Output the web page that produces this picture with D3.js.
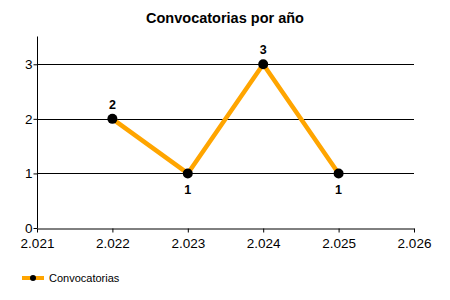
<!DOCTYPE html>
<html>
<head>
<meta charset="utf-8">
<script src="https://cdn.jsdelivr.net/npm/d3@7"></script>
<style>
  body { margin: 0; background: #fff; }
  svg { display: block; font-family: "Liberation Sans", Arial, sans-serif; }
</style>
</head>
<body>
<div id="chart"></div>
<script>
// Chart data
const years = [2.022, 2.023, 2.024, 2.025];
const counts = [2, 1, 3, 1];
const xTicks = [2.021, 2.022, 2.023, 2.024, 2.025, 2.026];
const yTicks = [0, 1, 2, 3];
const seriesName = "Convocatorias";
const title = "Convocatorias por año";

const W = 450, H = 300;
const margin = { top: 37, right: 36, bottom: 72, left: 37 };
const width = W - margin.left - margin.right;
const height = H - margin.top - margin.bottom;

const svg = d3.select("#chart").append("svg")
    .attr("width", W)
    .attr("height", H);

svg.append("text")
    .attr("x", 225)
    .attr("y", 23)
    .attr("text-anchor", "middle")
    .attr("font-size", 14.5)
    .attr("font-weight", "bold")
    .text(title);

const g = svg.append("g")
    .attr("transform", `translate(${margin.left},${margin.top})`);

const x = d3.scaleLinear().domain([2.021, 2.026]).range([0, width]);
const y = d3.scaleLinear().domain([0, 3.5]).range([height, 0]);

// gridlines
g.selectAll(".grid")
    .data(yTicks.filter(d => d > 0))
    .enter().append("line")
    .attr("x1", 0)
    .attr("x2", width)
    .attr("y1", d => Math.round(y(d)) + 0.5)
    .attr("y2", d => Math.round(y(d)) + 0.5)
    .attr("stroke", "#000");

// axes
const xAxis = d3.axisBottom(x)
    .tickValues(xTicks)
    .tickSize(4)
    .tickSizeOuter(0)
    .tickFormat(d3.format(".3f"));
const yAxis = d3.axisLeft(y)
    .tickValues(yTicks)
    .tickSize(4)
    .tickSizeOuter(0)
    .tickFormat(d3.format("d"));

const xg = g.append("g")
    .attr("transform", `translate(0,${Math.round(height) + 0.5})`)
    .call(xAxis);
xg.selectAll("text")
    .attr("font-size", 13.5)
    .attr("font-family", "Liberation Sans, Arial, sans-serif")
    .attr("dy", "0.9em");

const yg = g.append("g")
    .attr("transform", "translate(0.5,0)")
    .call(yAxis);
yg.select(".domain").attr("d", `M0,${-0.5}V${height}`);
yg.selectAll(".tick line").attr("x2", -4);
yg.selectAll("text")
    .attr("font-size", 13.5)
    .attr("font-family", "Liberation Sans, Arial, sans-serif")
    .attr("x", -5);

g.selectAll(".domain").attr("stroke", "#000").attr("stroke-width", 1);

// line
const pts = years.map((yr, i) => ({ x: yr, y: counts[i] }));
g.append("path")
    .datum(pts)
    .attr("fill", "none")
    .attr("stroke", "#FFA500")
    .attr("stroke-width", 4.5)
    .attr("stroke-linejoin", "round")
    .attr("d", d3.line().x(d => x(d.x)).y(d => y(d.y)));

g.selectAll(".pt")
    .data(pts)
    .enter().append("circle")
    .attr("cx", d => x(d.x))
    .attr("cy", d => y(d.y))
    .attr("r", 5)
    .attr("fill", "#000");

// value labels: above for peaks, below for valleys
g.selectAll(".lbl")
    .data(pts)
    .enter().append("text")
    .attr("x", d => x(d.x))
    .attr("y", (d, i) => {
        const prev = i > 0 ? pts[i - 1].y : -Infinity;
        const below = d.y < prev;
        return below ? y(d.y) + 21 : y(d.y) - 10;
    })
    .attr("text-anchor", "middle")
    .attr("font-size", 12.5)
    .attr("font-weight", "bold")
    .text(d => d.y);

// legend
const lg = svg.append("g").attr("transform", "translate(22,278)");
lg.append("line")
    .attr("x1", 0).attr("x2", 22)
    .attr("stroke", "#FFA500")
    .attr("stroke-width", 4);
lg.append("circle")
    .attr("cx", 11).attr("r", 3)
    .attr("fill", "#000");
lg.append("text")
    .attr("x", 27)
    .attr("y", 4)
    .attr("font-size", 11)
    .text(seriesName);
</script>
</body>
</html>
